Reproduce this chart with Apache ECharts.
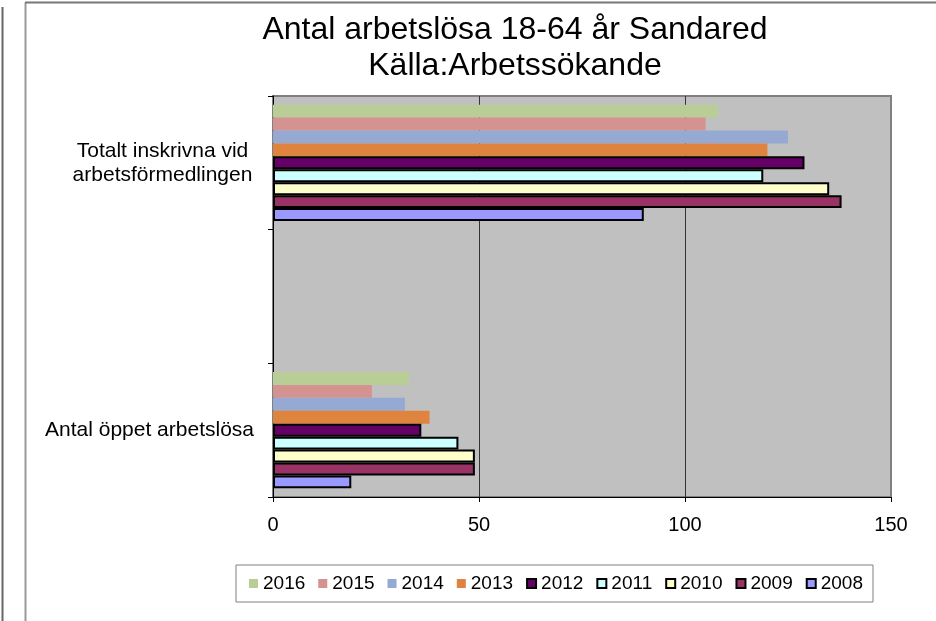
<!DOCTYPE html>
<html><head><meta charset="utf-8">
<script src="https://cdn.jsdelivr.net/npm/echarts@6/dist/echarts.min.js"></script>
<style>html,body{margin:0;padding:0;background:#fff}#c{width:936px;height:621px}</style>
</head><body><div id="c"></div>
<script>
// Categories (first = bottom of the y axis); the middle one is an empty spacer category
const categories = ['Antal öppet arbetslösa', '', 'Totalt inskrivna vid\narbetsförmedlingen'];
const years = ['2016', '2015', '2014', '2013', '2012', '2011', '2010', '2009', '2008'];
const legendOrder = ['2016', '2015', '2014', '2013', '2012', '2011', '2010', '2009', '2008'];
// values per year: [Antal öppet arbetslösa, (spacer), Totalt inskrivna]
const v2008 = [19, null, 90];
const v2009 = [49, null, 138];
const v2010 = [49, null, 135];
const v2011 = [45, null, 119];
const v2012 = [36, null, 129];
const v2013 = [38, null, 120];
const v2014 = [32, null, 125];
const v2015 = [24, null, 105];
const v2016 = [33, null, 108];
const xTicks = [0, 50, 100, 150];

const titleText = 'Antal arbetslösa 18-64 år Sandared\nKälla:Arbetssökande';
const FONT = '"Liberation Sans", Arial, sans-serif';

const values = { '2008': v2008, '2009': v2009, '2010': v2010, '2011': v2011, '2012': v2012,
  '2013': v2013, '2014': v2014, '2015': v2015, '2016': v2016 };
const styles = {
  '2008': { color: '#9999FF', borderColor: '#000', borderWidth: 2 },
  '2009': { color: '#993366', borderColor: '#000', borderWidth: 2 },
  '2010': { color: '#FFFFCC', borderColor: '#000', borderWidth: 2 },
  '2011': { color: '#CCFFFF', borderColor: '#000', borderWidth: 2 },
  '2012': { color: '#660066', borderColor: '#000', borderWidth: 2 },
  '2013': { color: '#DE843E', borderWidth: 0 },
  '2014': { color: '#95A9D2', borderWidth: 0 },
  '2015': { color: '#D49290', borderWidth: 0 },
  '2016': { color: '#B9CE96', borderWidth: 0 }
};

const chart = echarts.init(document.getElementById('c'), null, { renderer: 'canvas' });
chart.setOption({
  animation: false,
  backgroundColor: '#fff',
  title: {
    text: titleText, left: 510, top: 7, textAlign: 'center',
    textStyle: { fontFamily: FONT, fontSize: 32, fontWeight: 'normal', color: '#000', lineHeight: 36 }
  },
  legend: {
    data: legendOrder, left: 236, top: 565, icon: 'rect',
    itemWidth: 9, itemHeight: 9, itemGap: 13,
    padding: [9, 10, 9, 13],
    borderColor: '#808080', borderWidth: 1, backgroundColor: '#fff',
    textStyle: { fontFamily: FONT, fontSize: 19, color: '#000' }
  },
  grid: { left: 273, right: 45, top: 96, bottom: 124, show: true, backgroundColor: '#C0C0C0',
    borderColor: '#808080', borderWidth: 2, containLabel: false, outerBoundsMode: 'none' },
  xAxis: {
    type: 'value', min: xTicks[0], max: xTicks[xTicks.length - 1], interval: xTicks[1] - xTicks[0],
    axisLine: { show: true, lineStyle: { color: '#000', width: 1 } },
    axisTick: { show: true, length: 5, lineStyle: { color: '#000' } },
    axisLabel: { fontFamily: FONT, fontSize: 20, color: '#000', margin: 18 },
    splitLine: { show: true, showMinLine: false, showMaxLine: false, lineStyle: { color: '#333', width: 1 } }
  },
  yAxis: {
    type: 'category', data: categories,
    axisLine: { show: true, lineStyle: { color: '#000', width: 1 } },
    axisTick: { show: true, length: 5, lineStyle: { color: '#000' } },
    axisLabel: {
      fontFamily: FONT, fontSize: 21, color: '#000', margin: 19, lineHeight: 24,
      formatter: function (v) {
        if (v.indexOf('\n') < 0) return v;
        return v.split('\n').map(function (s) { return '{c|' + s + '}'; }).join('\n');
      },
      rich: { c: { fontFamily: FONT, fontSize: 21, color: '#000', lineHeight: 24, width: 183, align: 'center' } }
    },
    splitLine: { show: false }
  },
  series: years.map(y => ({
    name: y, type: 'bar', data: values[y],
    barGap: '0%', barCategoryGap: '13%',
    itemStyle: styles[y]
  }))
});
</script>
<svg style="position:absolute;left:0;top:0;pointer-events:none" width="936" height="621">
  <line x1="2.5" y1="7" x2="2.5" y2="621" stroke="#666" stroke-width="2"/>
  <line x1="25.5" y1="2.5" x2="25.5" y2="621" stroke="#999" stroke-width="2"/>
  <line x1="25" y1="2.5" x2="936" y2="2.5" stroke="#777" stroke-width="2"/>
</svg>
</body></html>
